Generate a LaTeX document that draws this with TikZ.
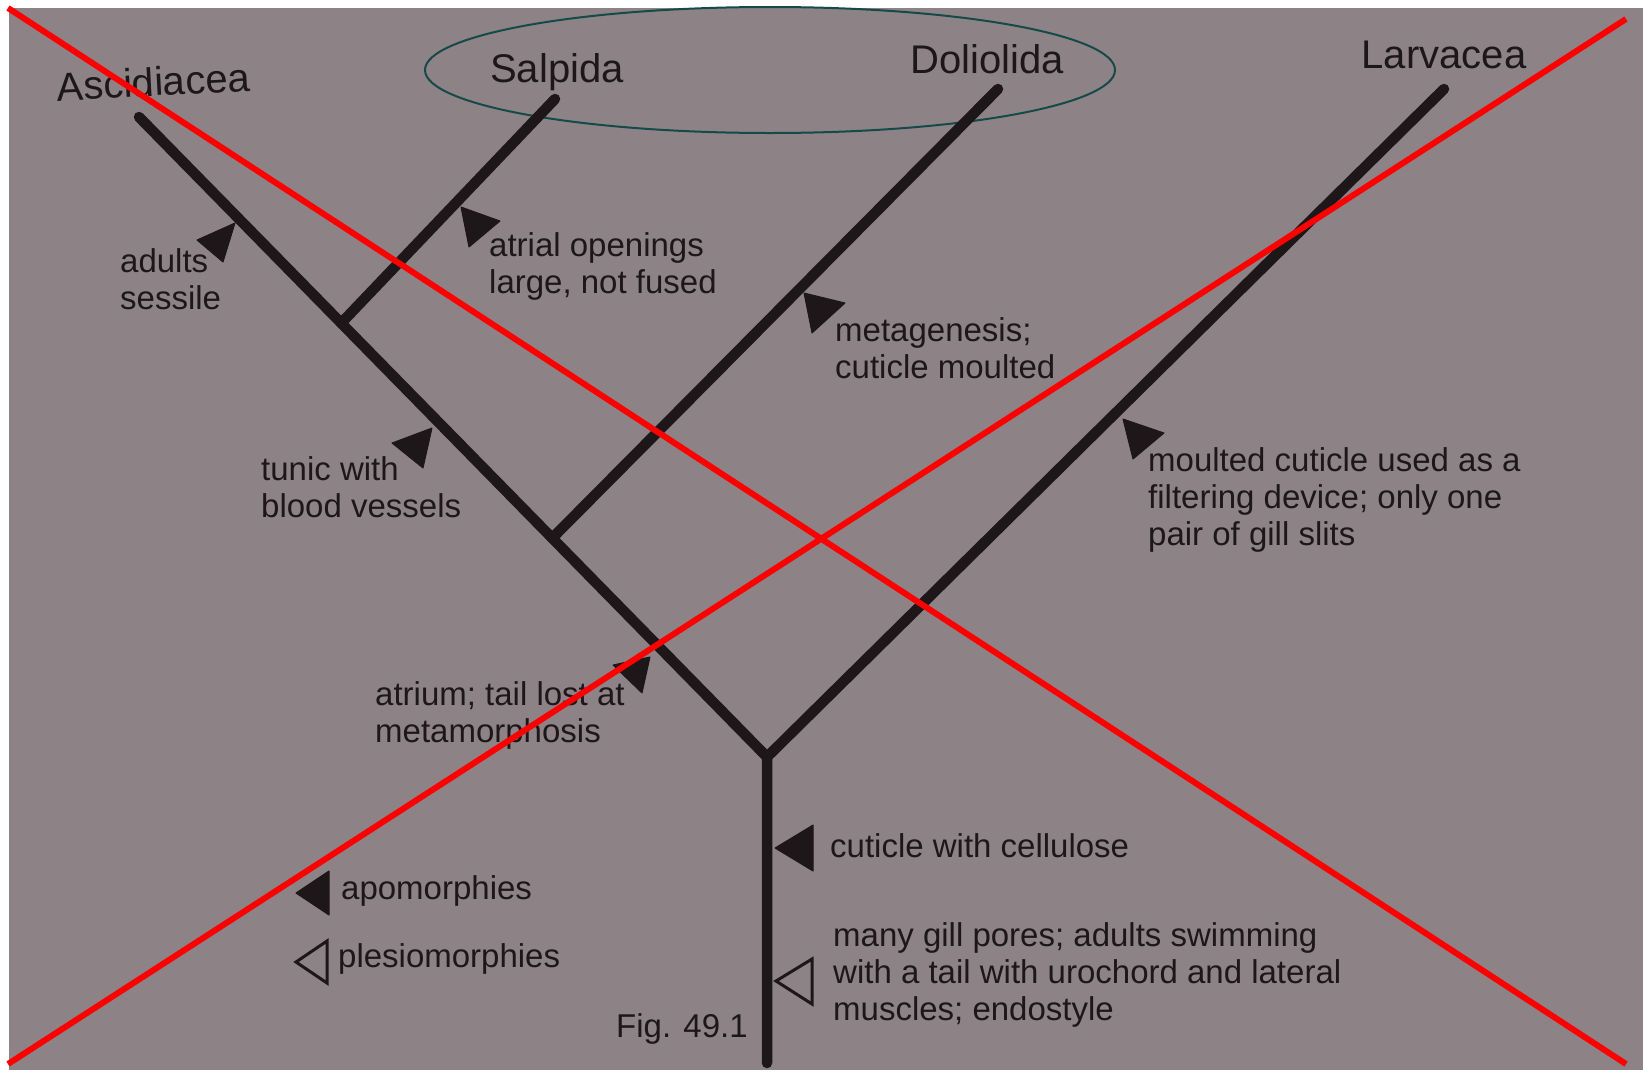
\documentclass[tikz,border=0pt]{standalone}
\usepackage{fontspec}
\setmainfont{Liberation Sans}
\usetikzlibrary{positioning,calc}
\definecolor{paper}{RGB}{141,131,134}
\definecolor{ink}{RGB}{30,23,25}
\definecolor{ring}{RGB}{22,74,72}

\tikzset{
  branch/.style={draw=ink,line width=10.5pt,line cap=round},
  taxon/.style={font=\fontsize{40}{44}\selectfont,text=ink,anchor=base,inner sep=0pt},
  note/.style={font=\fontsize{33}{37}\selectfont,text=ink,align=left,anchor=north west,inner sep=0pt},
  apo/.style={fill=ink,draw=ink,line width=1pt,line join=round},
  plesio/.style={draw=ink,line width=3pt,line join=miter},
  cross/.style={draw=red,line width=6pt}
}

\begin{document}
\begin{tikzpicture}[x=1pt,y=-1pt]
    \useasboundingbox (0,0) rectangle (1643,1074);
    \fill[paper] (9,8) rectangle (1643,1070);

    \coordinate (root) at (767,757);
    \coordinate (bot) at (767,1063);
    \coordinate (asc) at (139,117);
    \coordinate (sal) at (555,99);
    \coordinate (dol) at (998,89);
    \coordinate (lar) at (1444,89);
    \coordinate (n1) at ($(asc)!0.322!(root)$);
    \coordinate (n2) at ($(asc)!0.658!(root)$);
    \coordinate (c1) at (8,8);
    \coordinate (c2) at (1626,1064);
    \coordinate (c3) at (8,1064);
    \coordinate (c4) at (1626,19);

    \draw[ring,line width=2pt] (770,70) ellipse[x radius=345,y radius=63];

    \node[taxon,rotate=3] (tAsc) at (154,96) {Ascidiacea};
    \node[taxon] (tSal) at (557,82) {Salpida};
    \node[taxon] (tDol) at (987,73) {Doliolida};
    \node[taxon] (tLar) at (1444,68) {Larvacea};

    \draw[branch] (asc) -- (root) -- (bot);
    \draw[branch] (root) -- (lar);
    \draw[branch] (n1) -- (sal);
    \draw[branch] (n2) -- (dol);

    \fill[apo] (197,240) -- (235,223) -- (223,262) -- cycle;
    \fill[apo] (461,207) -- (500,221) -- (469,247) -- cycle;
    \fill[apo] (804,293) -- (845,303) -- (812,333) -- cycle;
    \fill[apo] (392,443) -- (432,428) -- (423,468) -- cycle;
    \fill[apo] (1123,419) -- (1164,433) -- (1133,459) -- cycle;
    \fill[apo] (613,665) -- (650,657) -- (642,693) -- cycle;
    \fill[apo] (775,848) -- (813,825) -- (813,871) -- cycle;
    \fill[apo] (296,893) -- (329,871) -- (329,915) -- cycle;
    \draw[plesio] (296,962) -- (327,941) -- (327,983) -- cycle;
    \draw[plesio] (776,981) -- (812,959) -- (812,1004) -- cycle;

    \node[note] (l1) at (120,248) {adults\\sessile};
    \node[note] (l2) at (489,232) {atrial openings\\large, not fused};
    \node[note] (l3) at (835,317) {metagenesis;\\cuticle moulted};
    \node[note] (l4) at (261,456) {tunic with\\blood vessels};
    \node[note] (l5) at (1148,447) {moulted cuticle used as a\\filtering device; only one\\pair of gill slits};
    \node[note] (l6) at (375,681) {atrium; tail lost at\\metamorphosis};
    \node[note] (l7) at (830,833) {cuticle with cellulose};
    \node[note] (l8) at (341,875) {apomorphies};
    \node[note] (l9) at (338,943) {plesiomorphies};
    \node[note] (l10) at (833,922) {many gill pores; adults swimming\\with a tail with urochord and lateral\\muscles; endostyle};
    \node[note] (fig) at (616,1013) {Fig. 49.1};

    \draw[cross] (c1) -- (c2);
    \draw[cross] (c3) -- (c4);
\end{tikzpicture}
\end{document}
